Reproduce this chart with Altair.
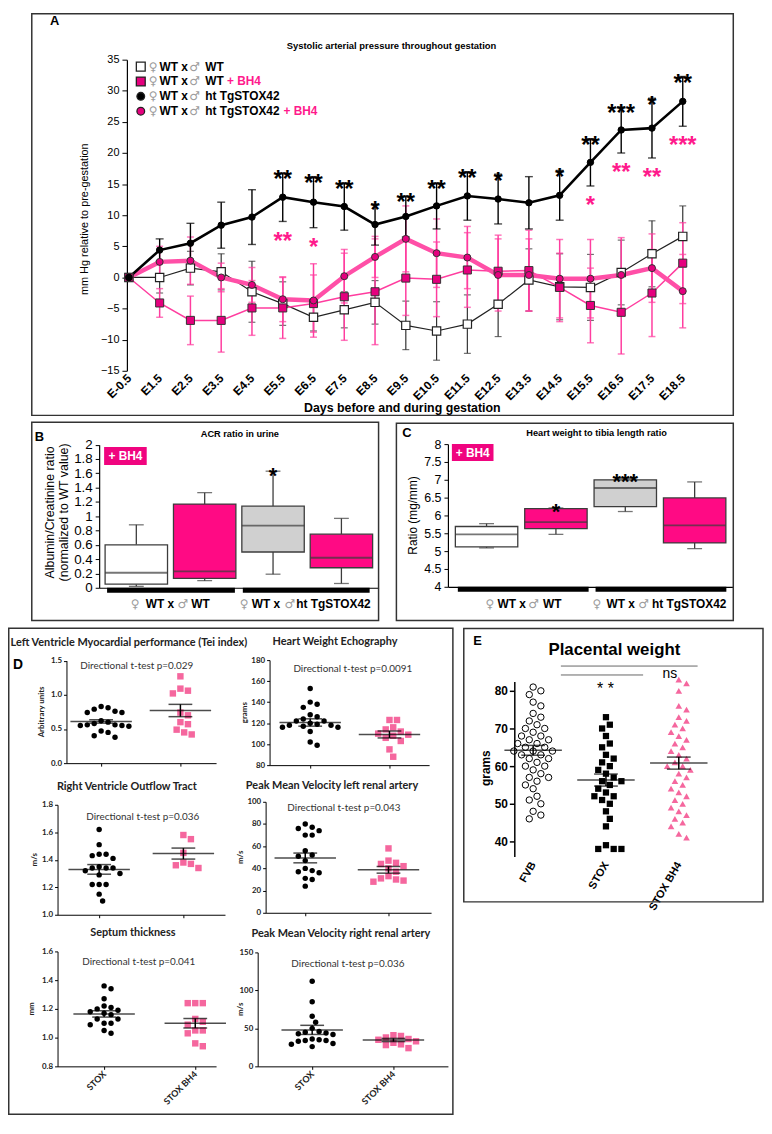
import json
import altair as alt
import pandas as pd

F = "Liberation Sans"
FD = "Lato"
FS = "DejaVu Sans"
PINK_MK = "#E5007E"
PINK_LN = "#FF3D9F"
PINK_ST = "#FF1A8C"
PINK_BOXB = "#FF0A84"
PINK_BOXC = "#FF3399"
PINK_BADGE = "#F0047F"
PINK_DOT = "#F5679E"
GREY_SYM = "#9C9C9C"
DARK = "#3C3C3C"

# ---------------- Panel A data ----------------
days = ["E-0.5", "E1.5", "E2.5", "E3.5", "E4.5", "E5.5", "E6.5", "E7.5", "E8.5", "E9.5",
        "E10.5", "E11.5", "E12.5", "E13.5", "E14.5", "E15.5", "E16.5", "E17.5", "E18.5"]
wt_mean = [0, 0, 1.5, 0.9, -2.3, -4.2, -6.4, -5.2, -4.0, -7.7, -8.6, -7.5, -4.3, -0.4, -1.5, -1.6, 0.8, 3.8, 6.6]
wt_err = [0, 2.5, 2.7, 2.9, 4.9, 3.5, 2.2, 2.9, 3.5, 3.9, 4.7, 4.7, 5.2, 5.0, 5.3, 5.3, 5.2, 5.3, 4.9]
wtb_mean = [0, -4.1, -6.9, -6.9, -4.9, -4.9, -4.2, -3.1, -2.3, -0.1, -0.3, 1.2, 1.0, 1.1, -1.6, -4.5, -5.6, -2.5, 2.3]
wtb_err = [0, 2.3, 3.9, 5.1, 4.4, 4.9, 4.6, 7.0, 8.5, 6.0, 6.0, 6.0, 5.8, 6.5, 5.5, 6.0, 6.7, 7.0, 6.5]
stox_mean = [0, 4.4, 5.5, 8.4, 9.7, 12.9, 12.1, 11.4, 8.5, 9.8, 11.5, 13.1, 12.6, 12.0, 13.2, 18.5, 23.7, 24.0, 28.3]
stox_err = [0, 1.8, 3.2, 3.7, 4.4, 3.9, 4.1, 3.8, 3.3, 3.3, 3.7, 3.9, 4.0, 4.2, 4.0, 3.8, 3.7, 4.8, 4.0]
stoxb_mean = [0, 2.5, 2.7, 0.0, -1.2, -3.5, -3.7, 0.2, 3.3, 6.2, 3.9, 3.2, 0.4, 0.4, -0.2, -0.2, 0.4, 1.5, -2.2]
stoxb_err = [0, 2.5, 3.8, 2.3, 2.8, 3.6, 5.9, 4.3, 3.3, 5.3, 5.5, 5.0, 5.8, 5.8, 6.3, 6.3, 6.0, 5.5, 5.9]
stox_stars = ["", "", "", "", "", "**", "**", "**", "*", "**", "**", "**", "*", "", "*", "**", "***", "*", "**"]
bh4_stars = ["", "", "", "", "", "**", "*", "", "", "", "", "", "", "", "", "*", "**", "**", "***"]
a_ticks = [-15, -10, -5, 0, 5, 10, 15, 20, 25, 30, 35]
legend_main = ["WT", "WT", "ht TgSTOX42", "ht TgSTOX42"]
legend_suffix = ["", "+ BH4", "", "+ BH4"]

# ---------------- Panels B / C data ----------------
groups4 = ["WT x WT", "WT x WT + BH4", "WT x ht TgSTOX42", "WT x ht TgSTOX42 + BH4"]
acr_min = [0.02, 0.10, 0.19, 0.06]
acr_q1 = [0.05, 0.13, 0.50, 0.28]
acr_med = [0.21, 0.23, 0.87, 0.42]
acr_q3 = [0.60, 1.17, 1.14, 0.75]
acr_max = [0.88, 1.33, 1.63, 0.97]
acr_stars = ["", "", "*", ""]
acr_ticks = [0, 0.2, 0.4, 0.6, 0.8, 1, 1.2, 1.4, 1.6, 1.8, 2]
htl_min = [5.09, 5.47, 6.11, 5.07]
htl_q1 = [5.12, 5.63, 6.25, 5.23]
htl_med = [5.47, 5.81, 6.77, 5.72]
htl_q3 = [5.69, 6.19, 7.00, 6.49]
htl_max = [5.77, 6.21, 7.04, 6.94]
htl_stars = ["", "*", "***", ""]
htl_ticks = [4, 4.5, 5, 5.5, 6, 6.5, 7, 7.5, 8]

# ---------------- Panel D data ----------------
d_groups = ["STOX", "STOX BH4"]
lv_stox = [0.83, 0.81, 0.79, 0.76, 0.74, 0.74, 0.62, 0.60, 0.58, 0.56, 0.56, 0.55, 0.55, 0.54, 0.47, 0.45, 0.40, 0.38]
lv_bh4 = [1.27, 1.09, 1.06, 1.02, 0.74, 0.70, 0.60, 0.57, 0.49, 0.45, 0.42]
lv_mean, lv_sem = [0.61, 0.77], [0.025, 0.09]
rv_stox = [1.62, 1.51, 1.44, 1.44, 1.43, 1.41, 1.35, 1.34, 1.34, 1.34, 1.32, 1.30, 1.29, 1.22, 1.22, 1.22, 1.15, 1.10]
rv_bh4 = [1.58, 1.55, 1.45, 1.38, 1.37, 1.36, 1.34]
rv_mean, rv_sem = [1.33, 1.445], [0.035, 0.04]
se_stox = [1.36, 1.34, 1.27, 1.22, 1.21, 1.20, 1.19, 1.18, 1.17, 1.16, 1.13, 1.13, 1.10, 1.10, 1.09, 1.05, 1.03]
se_bh4 = [1.24, 1.24, 1.24, 1.13, 1.11, 1.09, 1.05, 1.05, 1.03, 0.96, 0.94]
se_mean, se_sem = [1.165, 1.10], [0.022, 0.033]
hw_stox = [153, 140, 138, 135, 128, 126, 124, 122, 122, 120, 119, 118, 118, 117, 116, 116, 112, 102, 99]
hw_bh4 = [123, 123, 116, 114, 112, 110, 109, 108, 106, 103, 95, 88]
hw_mean, hw_sem = [120.6, 109.2], [3.5, 3.3]
pl_stox = [80, 77, 76, 74, 70, 70, 56, 52, 51, 47, 40, 38, 37, 36, 31, 30, 24]
pl_bh4 = [58, 47, 45, 44, 42, 40, 37, 33, 31, 30, 29, 28]
pl_mean, pl_sem = [49.4, 38.7], [4.4, 3.0]
pr_stox = [112, 85, 66, 58, 50, 46, 45, 44, 43, 42, 36, 35, 34, 34, 33, 30, 29, 26]
pr_bh4 = [41, 40, 38, 36, 35, 33, 31, 29, 28, 24]
pr_mean, pr_sem = [48.0, 34.7], [6.0, 2.1]

# ---------------- Panel E data ----------------
e_groups = ["FVB", "STOX", "STOX BH4"]
e_fvb = [81, 80, 79, 77, 76, 74, 73, 72, 71, 70, 70, 69, 68, 68, 67, 67, 66, 66, 65, 65, 64, 64, 64,
         63, 63, 62, 62, 61, 60, 60, 59, 58, 57, 57, 56, 55, 54, 52, 51, 50, 48, 47, 46]
e_stox = [73, 71, 70, 68, 66, 65, 63, 62, 61, 60, 59, 58, 57, 56, 56, 55, 54, 53, 52, 52, 51, 50,
          48, 46, 44, 39, 38, 38, 38]
e_bh4 = [83, 82, 80, 76, 75, 73, 72, 71, 70, 69, 68, 67, 66, 65, 64, 63, 62, 61, 60, 60, 59, 58,
         57, 56, 55, 54, 53, 52, 51, 50, 49, 48, 47, 46, 45, 44, 42, 41]
e_mean, e_sem = [64.2, 56.3, 60.8], [1.3, 1.6, 1.6]
e_ticks = [40, 50, 60, 70, 80]

ONE = pd.DataFrame({"k": [0]})


def T(o, text, x, y, size=11, color="black", weight="normal", align="center",
      baseline="middle", angle=0, font=F):
    kw = dict(text=text, fontSize=size, color=color, fontWeight=weight,
              align=align, baseline=baseline, font=font)
    if angle:
        kw["angle"] = angle
    return alt.Chart(ONE).mark_text(**kw).encode(
        x=alt.value(float(x - o[0])), y=alt.value(float(y - o[1])))


def R(o, x0, y0, x1, y1, fill="white", stroke=None, sw=1.5, fo=1.0):
    kw = dict(fill=fill, fillOpacity=fo)
    if stroke:
        kw.update(stroke=stroke, strokeWidth=sw)
    else:
        kw.update(strokeWidth=0)
    return alt.Chart(ONE).mark_rect(**kw).encode(
        x=alt.value(float(x0 - o[0])), x2=alt.value(float(x1 - o[0])),
        y=alt.value(float(y0 - o[1])), y2=alt.value(float(y1 - o[1])))


def L(o, x0, y0, x1, y1, color="black", sw=1.0):
    return alt.Chart(ONE).mark_rule(color=color, strokeWidth=sw).encode(
        x=alt.value(float(x0 - o[0])), x2=alt.value(float(x1 - o[0])),
        y=alt.value(float(y0 - o[1])), y2=alt.value(float(y1 - o[1])))


def sex_label(o, y, xf, xw, xm, xr, rest, size=12):
    return [T(o, "\u2640", xf, y, size=size, color=GREY_SYM, align="left", font=FS),
            T(o, "WT x", xw, y, size=size, weight="bold", align="left"),
            T(o, "\u2642", xm, y, size=size, color=GREY_SYM, align="left", font=FS),
            T(o, rest, xr, y, size=size, weight="bold", align="left")]


# ======================= PANEL A (plot area = cell) =======================
cA = (8, 8, 741, 416)
oA = (cA[0], cA[1])
xA = alt.X("i:Q", scale=alt.Scale(domain=[0, 18], range=[130 - oA[0], 689 - oA[0]], nice=False, zero=False),
           axis=alt.Axis(title=None, values=list(range(len(days))), offset=-(cA[3] - 369), domain=False,
                         ticks=False, labelAngle=315, labelAlign="right", labelBaseline="middle",
                         labelFontWeight="bold", labelFontSize=12, labelPadding=5, labelColor="black",
                         labelFont=F, labelExpr=json.dumps(days) + "[datum.value]", labelFlush=False,
                         labelOverlap=False, grid=False))


def yA(f):
    return alt.Y(f + ":Q", scale=alt.Scale(domain=[-15, 35], range=[369 - oA[1], 55 - oA[1]], nice=False,
                                           zero=False),
                 axis=alt.Axis(title=None, values=a_ticks, offset=-(128 - oA[0]), tickSize=5, labelPadding=3,
                               labelFontSize=11, grid=False, domainColor="black", tickColor="black",
                               labelColor="black", domainWidth=1.2, labelFlush=False, labelOverlap=False))


def sdf(mean, err):
    return pd.DataFrame({"i": list(range(len(days))), "mean": mean,
                         "lo": [m - e for m, e in zip(mean, err)],
                         "hi": [m + e for m, e in zip(mean, err)]})


def errl(df, color, sw=1.3, cap=7):
    b = alt.Chart(df)
    return [b.mark_rule(color=color, strokeWidth=sw).encode(x=xA, y=yA("lo"), y2="hi"),
            b.mark_tick(color=color, thickness=sw, size=cap, orient="horizontal").encode(x=xA, y=yA("lo")),
            b.mark_tick(color=color, thickness=sw, size=cap, orient="horizontal").encode(x=xA, y=yA("hi"))]


def linel(df, color, sw):
    return alt.Chart(df).mark_line(color=color, strokeWidth=sw).encode(x=xA, y=yA("mean"), order="i:Q")


def ptl(df, shape, fill, stroke, size, sw=1.0):
    return alt.Chart(df).mark_point(shape=shape, filled=True, fill=fill, stroke=stroke,
                                    strokeWidth=sw, size=size, opacity=1).encode(x=xA, y=yA("mean"))


d_wt, d_wtb = sdf(wt_mean, wt_err), sdf(wtb_mean, wtb_err)
d_st, d_stb = sdf(stox_mean, stox_err), sdf(stoxb_mean, stoxb_err)
d_st["s"] = stox_stars
d_st["sb"] = bh4_stars

layersA = [R(oA, 32, 8.75, 740, 414, fo=0, stroke="#333", sw=1.5)]
layersA += errl(d_wt, "#333", 1.2) + errl(d_wtb, PINK_LN, 1.5) + errl(d_stb, PINK_LN, 1.5) + errl(d_st, "black", 1.4, 8)
layersA += [linel(d_wt, "#222", 1.2), linel(d_wtb, PINK_LN, 1.5), linel(d_stb, "#FF4FA7", 4.5),
            linel(d_st, "black", 2.6)]
layersA += [ptl(d_wt, "square", "white", "#222", 70, 1.2), ptl(d_wtb, "square", PINK_MK, "#333", 66),
            ptl(d_stb, "circle", PINK_MK, "#333", 50), ptl(d_st, "circle", "black", "black", 42)]
layersA += [
    alt.Chart(d_st[d_st.s != ""]).mark_text(fontSize=24, fontWeight="bold", color="black", dy=7.5,
                                            font=F).encode(x=xA, y=yA("hi"), text="s:N"),
    alt.Chart(d_st[d_st.sb != ""]).mark_text(fontSize=24, fontWeight="bold", color=PINK_ST, dy=20.5,
                                             font=F).encode(x=xA, y=yA("lo"), text="sb:N"),
]
# legend
leg_y = [62, 77, 92, 107]
leg_sym = [("square", "white"), ("square", PINK_MK), ("circle", "black"), ("circle", PINK_MK)]
leg_suffix_x = [0, 229, 0, 286]
for i in range(4):
    shp, fl = leg_sym[i]
    layersA.append(alt.Chart(ONE).mark_point(shape=shp, filled=True, fill=fl, stroke="#222", strokeWidth=1.3,
                                             size=80 if shp == "square" else 60, opacity=1).encode(
        x=alt.value(142 - oA[0]), y=alt.value(leg_y[i] - oA[1])))
    layersA += sex_label(oA, leg_y[i], 150, 161, 191, 207, legend_main[i], size=12)
    if legend_suffix[i]:
        layersA.append(T(oA, legend_suffix[i], leg_suffix_x[i], leg_y[i], size=12, weight="bold",
                         color=PINK_ST, align="left"))
layersA += [
    T(oA, "A", 55, 16, size=13, weight="bold"),
    T(oA, "Systolic arterial pressure throughout gestation", 395, 41, size=9.5, weight="bold"),
    T(oA, "Days before and during gestation", 406, 407, size=12.5, weight="bold"),
    T(oA, "mm Hg relative to pre-gestation", 86, 216, size=11, angle=270),
]
chartA = alt.layer(*layersA).properties(width=cA[2] - cA[0], height=cA[3] - cA[1])


# ======================= PANELS B / C (plot area = cell) =======================
def box_panel(cell, plot, ydom, yticks, lab_size, mins, q1, med, q3, maxs, stars, fills, pi, po, frame,
              letter, letter_xy, title, title_xy, badge, bars, glabels, ytitles, star_dy):
    o = (cell[0], cell[1])
    px0, py0, px1, py1 = plot
    df = pd.DataFrame({"g": groups4, "mn": mins, "q1": q1, "md": med, "q3": q3, "mx": maxs, "st": stars})
    x = alt.X("g:N", sort=groups4,
              scale=alt.Scale(type="band", paddingInner=pi, paddingOuter=po, range=[px0 - o[0], px1 - o[0]]),
              axis=alt.Axis(title=None, labels=False, ticks=False, domain=True, domainColor="black",
                            domainWidth=1.2, offset=-(cell[3] - py1)))

    def y(f):
        return alt.Y(f + ":Q", scale=alt.Scale(domain=ydom, range=[py1 - o[1], py0 - o[1]], nice=False,
                                               zero=False),
                     axis=alt.Axis(title=None, values=yticks, format="~g", tickSize=4, labelFontSize=lab_size,
                                   labelPadding=3, grid=False, domainColor="black", tickColor="black",
                                   labelColor="black", domainWidth=1.2, offset=-(px0 - o[0]),
                                   labelFlush=False, labelOverlap=False))
    col = alt.Color("g:N", scale=alt.Scale(domain=groups4, range=fills), legend=None)
    b = alt.Chart(df)
    lay = [R(o, *frame, fo=0, stroke="#333", sw=1.5)]
    lay += [b.mark_rule(color=DARK, strokeWidth=1.3).encode(x=x, y=y("mn"), y2="q1"),
            b.mark_rule(color=DARK, strokeWidth=1.3).encode(x=x, y=y("q3"), y2="mx"),
            b.mark_tick(color=DARK, thickness=1.3, size=15, orient="horizontal").encode(x=x, y=y("mn")),
            b.mark_tick(color=DARK, thickness=1.3, size=15, orient="horizontal").encode(x=x, y=y("mx")),
            b.mark_bar(stroke=DARK, strokeWidth=1.3, opacity=1).encode(x=x, y=y("q1"), y2="q3", color=col),
            b.mark_tick(color=DARK, thickness=1.8, size=63, orient="horizontal").encode(x=x, y=y("md")),
            alt.Chart(df[df.st != ""]).mark_text(fontSize=22, fontWeight="bold", color="black", dy=star_dy,
                                                 font=F).encode(x=x, y=y("mx"), text="st:N")]
    lay += [T(o, letter, *letter_xy, size=13, weight="bold", align="left"),
            T(o, title, *title_xy, size=9.3, weight="bold")]
    bx0, by0, bx1, by1 = badge
    lay += [R(o, bx0, by0, bx1, by1, fill=PINK_BADGE),
            T(o, "+ BH4", (bx0 + bx1) / 2, (by0 + by1) / 2 + 0.5, size=12, weight="bold", color="white")]
    for bb in bars:
        lay.append(R(o, *bb, fill="black"))
    for gl in glabels:
        lay += sex_label(o, *gl)
    for (txt, tx, ty, ts) in ytitles:
        lay.append(T(o, txt, tx, ty, size=ts, angle=270))
    return alt.layer(*lay).properties(width=cell[2] - cell[0], height=cell[3] - cell[1])


chartB = box_panel(
    (8, 416, 391, 628), (100, 443.6, 382, 588), [0, 2], acr_ticks, 13.5, acr_min, acr_q1, acr_med, acr_q3,
    acr_max, acr_stars, ["white", PINK_BOXB, "#D0D0D0", PINK_BOXB], 0.087, 0.087,
    (32, 421, 382, 621), "B", (35, 436), "ACR ratio in urine", (242, 433),
    (105, 446, 148, 464), [(108, 588, 237, 593), (245, 588, 373, 593)],
    [(604, 132, 147, 179, 193, "WT"), (604, 242, 254, 287, 299, "ht TgSTOX42")],
    [("Albumin/Creatinine ratio", 50, 512, 12.5), ("(normalized to WT value)", 65, 512, 12.5)], 5)

chartC = box_panel(
    (391, 416, 741, 628), (452, 443, 740, 587), [4, 8], htl_ticks, 12.5, htl_min, htl_q1, htl_med, htl_q3,
    htl_max, htl_stars, ["white", PINK_BOXC, "#D0D0D0", PINK_BOXC], 0.1, 0.107,
    (400, 422, 740, 621), "C", (406, 432), "Heart weight to tibia length ratio",
    (602, 432), (456, 443, 498, 460), [(462, 587, 594, 592), (601, 587, 733, 592)],
    [(604, 490, 502, 533, 548, "WT"), (604, 598, 612, 644, 658, "ht TgSTOX42")],
    [("Ratio (mg/mm)", 417, 515, 12)], 4)


# ======================= PANEL D =======================
def swarm_offsets(vals, ppu, d):
    idx = sorted(range(len(vals)), key=lambda i: -vals[i])
    placed = []
    off = [0.0] * len(vals)
    step = d * 0.5
    for i in idx:
        yp = vals[i] * ppu
        c = 0.0
        for j in range(0, 80):
            c = ((j + 1) // 2) * step * (1 if j % 2 == 1 else -1)
            if all((c - px) ** 2 + (yp - py) ** 2 >= d * d for px, py in placed):
                break
        placed.append((c, yp))
        off[i] = c
    return off


def dot_panel(cell, plot, ydom, yticks, yfmt, ticks_px, v0, v1, mean, sem, title, title_xy, ptxt, ptxt_xy,
              ytitle, ytitle_x, xlabels, extra=()):
    cx0, cy0, cx1, cy1 = cell
    px0, py0, px1, py1 = plot
    o = (cx0, cy0)
    k = ticks_px[1] - ticks_px[0]
    d0 = (px0 - ticks_px[0]) / k
    d1 = 1 + (px1 - ticks_px[1]) / k
    ppu = (py1 - py0) / (ydom[1] - ydom[0])
    xsc = alt.Scale(domain=[d0, d1], range=[px0 - cx0, px1 - cx0], nice=False, zero=False)
    ysc = alt.Scale(domain=ydom, range=[py1 - cy0, py0 - cy0], nice=False, zero=False)
    xax = alt.Axis(title=None, values=[0, 1], offset=-(cy1 - py1), tickSize=3, domainColor="black",
                   tickColor="black", labels=xlabels, labelExpr=json.dumps(d_groups) + "[datum.value]",
                   labelAngle=315, labelAlign="right", labelBaseline="middle", labelFont=FD, labelFontSize=9,
                   labelFontWeight="bold", labelPadding=3, labelFlush=False, labelOverlap=False, grid=False,
                   labelColor="#222")
    yax = alt.Axis(title=None, values=yticks, format=yfmt, offset=-(px0 - cx0), tickSize=3, labelFont=FD,
                   labelFontSize=8, labelFontWeight="bold", labelPadding=2, domainColor="black",
                   tickColor="black", grid=False, labelFlush=False, labelOverlap=False, labelColor="#222")
    o0 = swarm_offsets(v0, ppu, 7.0)
    o1 = swarm_offsets(v1, ppu, 7.6)
    df0 = pd.DataFrame({"x": [0 + q / k for q in o0], "v": v0})
    df1 = pd.DataFrame({"x": [1 + q / k for q in o1], "v": v1})
    dm = pd.DataFrame({"x": [0, 1], "m": mean, "lo": [m - s for m, s in zip(mean, sem)],
                       "hi": [m + s for m, s in zip(mean, sem)]})

    def X(f):
        return alt.X(f + ":Q", scale=xsc, axis=xax)

    def Y(f):
        return alt.Y(f + ":Q", scale=ysc, axis=yax)
    bm = alt.Chart(dm)
    lay = [alt.Chart(df0).mark_circle(color="black", size=30, opacity=1).encode(x=X("x"), y=Y("v")),
           alt.Chart(df1).mark_square(color=PINK_DOT, size=42, opacity=1).encode(x=X("x"), y=Y("v")),
           bm.mark_rule(color="black", strokeWidth=1.5).encode(x=X("x"), y=Y("lo"), y2="hi"),
           bm.mark_tick(color="black", thickness=1.5, size=62, orient="horizontal").encode(x=X("x"), y=Y("m")),
           bm.mark_tick(color="black", thickness=1.5, size=24, orient="horizontal").encode(x=X("x"), y=Y("lo")),
           bm.mark_tick(color="black", thickness=1.5, size=24, orient="horizontal").encode(x=X("x"), y=Y("hi")),
           T(o, title, *title_xy, size=11, weight="bold", font=FD, color="#222"),
           T(o, ptxt, *ptxt_xy, size=10, font=FD, color="#333"),
           T(o, ytitle, ytitle_x, (py0 + py1) / 2, size=8, weight="bold", angle=270, font=FD, color="#222")]
    lay += list(extra)
    return alt.layer(*lay).properties(width=cx1 - cx0, height=cy1 - cy0)


c_lv = (8, 628, 236, 777)
c_hw = (236, 628, 458, 777)
c_rv = (8, 777, 236, 925)
c_pl = (236, 777, 458, 925)
c_se = (8, 925, 236, 1120)
c_pr = (236, 925, 458, 1120)

p_lv = dot_panel(c_lv, (67, 661.5, 218, 765), [0, 1.5], [0, 0.5, 1.0, 1.5], ".1f", (102, 182), lv_stox, lv_bh4,
                 lv_mean, lv_sem, "Left Ventricle Myocardial performance (Tei index)", (130, 644),
                 "Directional t-test p=0.029", (138, 667), "Arbitrary units", 42, False,
                 [T((8, 628), "D", 18, 666, size=14, weight="bold")])
p_hw = dot_panel(c_hw, (272, 661, 433, 767), [80, 180], [80, 100, 120, 140, 160, 180], "d", (313, 393),
                 hw_stox, hw_bh4, hw_mean, hw_sem, "Heart Weight Echography", (338, 643),
                 "Directional t-test p=0.0091", (356, 670), "grams", 247, False)
p_rv = dot_panel(c_rv, (58, 807, 227, 918), [1.0, 1.8], [1.0, 1.2, 1.4, 1.6, 1.8], ".1f", (100, 185),
                 rv_stox, rv_bh4, rv_mean, rv_sem, "Right Ventricle Outflow Tract", (128, 789),
                 "Directional t-test p=0.036", (144, 819), "m/s", 35, False)
p_pl = dot_panel(c_pl, (268, 804, 435, 916), [0, 100], [0, 20, 40, 60, 80, 100], "d", (308, 392),
                 pl_stox, pl_bh4, pl_mean, pl_sem, "Peak Mean Velocity left renal artery", (335, 788),
                 "Directional t-test p=0.043", (347, 810), "m/s", 243, False)
p_se = dot_panel(c_se, (58, 955, 218, 1071), [0.8, 1.6], [0.8, 1.0, 1.2, 1.4, 1.6], ".1f", (105, 197),
                 se_stox, se_bh4, se_mean, se_sem, "Septum thickness", (134, 936),
                 "Directional t-test p=0.041", (140, 966), "mm", 32, True)
p_pr = dot_panel(c_pr, (260, 956, 452, 1071), [0, 150], [0, 50, 100, 150], "d", (315, 397),
                 pr_stox, pr_bh4, pr_mean, pr_sem, "Peak Mean Velocity  right renal artery", (344, 937),
                 "Directional t-test p=0.036", (351, 968), "m/s", 243, True,
                 [R((236, 925), 8.75, 628.75, 457, 1119.25, fo=0, stroke="#333", sw=1.5)])

chartD = alt.concat(p_lv, p_hw, p_rv, p_pl, p_se, p_pr, columns=2, spacing=0, bounds="flush")

# ======================= PANEL E =======================
cE = (458, 628, 771, 1120)
oE = (cE[0], cE[1])
ex0, ex1 = 519, 722
ey0, ey1 = 682.5, 859.2
e_first, e_k = 538, 73.5
e_dom = [36, 82.5]
xsE = alt.Scale(domain=[(ex0 - e_first) / e_k, (ex1 - e_first) / e_k], range=[ex0 - oE[0], ex1 - oE[0]],
                nice=False, zero=False)
ysE = alt.Scale(domain=e_dom, range=[ey1 - oE[1], ey0 - oE[1]], nice=False, zero=False)
xaE = alt.Axis(title=None, values=[0, 1, 2], offset=-(cE[3] - ey1), domain=False, ticks=False,
               labelExpr=json.dumps(e_groups) + "[datum.value]", labelAngle=300, labelAlign="right",
               labelBaseline="middle", labelFont=F, labelFontSize=11, labelFontWeight="bold", labelPadding=6,
               labelFlush=False, labelOverlap=False, grid=False, labelColor="black")
yaE = alt.Axis(title=None, values=e_ticks, format="d", offset=-(ex0 - oE[0]), tickSize=5, labelFont=F,
               labelFontSize=12, labelFontWeight="bold", labelPadding=2, domainColor="black",
               tickColor="black", grid=False, labelFlush=False, labelOverlap=False, labelColor="black",
               domainWidth=1.5, tickWidth=1.5)
e_ppu = (ey1 - ey0) / (e_dom[1] - e_dom[0])
e_sets = [e_fvb, e_stox, e_bh4]
e_dfs = []
for gi, vals in enumerate(e_sets):
    offs = swarm_offsets(vals, e_ppu, 7.8)
    e_dfs.append(pd.DataFrame({"x": [gi + q / e_k for q in offs], "v": vals}))
dmE = pd.DataFrame({"x": [0, 1, 2], "m": e_mean, "lo": [m - s for m, s in zip(e_mean, e_sem)],
                    "hi": [m + s for m, s in zip(e_mean, e_sem)]})
XE = alt.X("x:Q", scale=xsE, axis=xaE)


def YE(f):
    return alt.Y(f + ":Q", scale=ysE, axis=yaE)


bE = alt.Chart(dmE)
layersE = [
    R(oE, 468, 629, 770, 905, fo=0, stroke="#333", sw=1.5),
    alt.Chart(e_dfs[0]).mark_point(shape="circle", filled=False, color="black", size=42, strokeWidth=1,
                                   opacity=1).encode(x=XE, y=YE("v")),
    alt.Chart(e_dfs[1]).mark_square(color="black", size=40, opacity=1).encode(x=XE, y=YE("v")),
    alt.Chart(e_dfs[2]).mark_point(shape="triangle-up", filled=True, color=PINK_DOT, size=45,
                                   opacity=1).encode(x=XE, y=YE("v")),
    bE.mark_rule(color="black", strokeWidth=1.5).encode(x=XE, y=YE("lo"), y2="hi"),
    bE.mark_tick(color="black", thickness=1.5, size=58, orient="horizontal").encode(x=XE, y=YE("m")),
    bE.mark_tick(color="black", thickness=1.5, size=24, orient="horizontal").encode(x=XE, y=YE("lo")),
    bE.mark_tick(color="black", thickness=1.5, size=24, orient="horizontal").encode(x=XE, y=YE("hi")),
    T(oE, "E", 482, 642, size=13, weight="bold"),
    T(oE, "Placental weight", 620, 651, size=17, weight="bold"),
    L(oE, 566, 667, 704, 667, color="#666", sw=1),
    L(oE, 566, 676, 649, 676, color="#666", sw=1),
    T(oE, "* *", 611, 695, size=16, baseline="alphabetic"),
    T(oE, "ns", 676, 675, size=14),
    T(oE, "grams", 490, 770, size=12, weight="bold", angle=270),
]
chartE = alt.layer(*layersE).properties(width=cE[2] - cE[0], height=cE[3] - cE[1])

# ======================= ASSEMBLY =======================
row2 = alt.hconcat(chartB, chartC, spacing=0, bounds="flush")
row3 = alt.hconcat(chartD, chartE, spacing=0, bounds="full")
chart = alt.vconcat(chartA, row2, row3, spacing=0, bounds="full").properties(
    padding=0
).configure_view(stroke=None).configure_axis(grid=False, labelFont=F)

chart.save("out.html", embed_options={"renderer": "svg", "actions": False})
